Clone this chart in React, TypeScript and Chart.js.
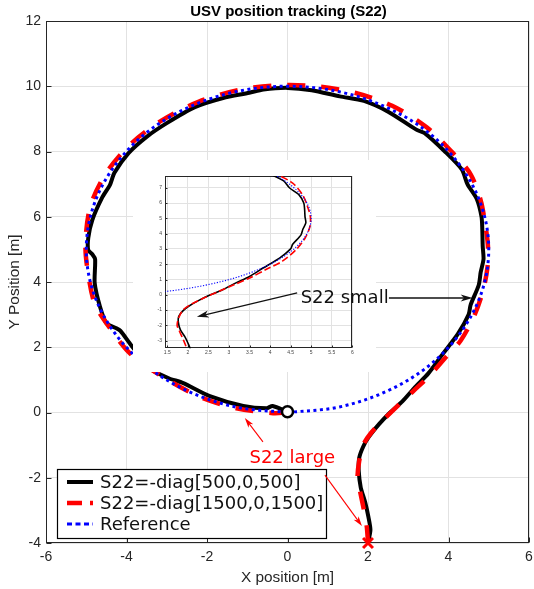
import { useEffect, useRef } from 'react';
import { Chart, registerables } from 'chart.js';

Chart.register(...registerables);

// ---------------- data ----------------
const TITLE = 'USV position tracking (S22)';
const X_LABEL = 'X position [m]';
const Y_LABEL = 'Y Position [m]';
const SERIES_NAMES = ['S22=-diag[500,0,500]', 'S22=-diag[1500,0,1500]', 'Reference'];

// S22 small (black solid)
const smallX = [2.0, 2.06, 2.01, 1.93, 1.82, 1.77, 1.78, 1.88, 2.02, 2.28, 2.55, 2.86, 3.17, 3.5, 3.83, 4.23, 4.5, 4.55, 4.75, 4.8, 4.87, 4.85, 4.84, 4.82, 4.7, 4.47, 4.33, 3.91, 3.4, 3.2, 2.5, 1.9, 1.3, 0.6, 0.0, -0.6, -0.95, -1.6, -2.3, -3.0, -3.5, -3.95, -4.3, -4.41, -4.6, -4.85, -4.95, -4.95, -4.85, -4.78, -4.79, -4.66, -4.5, -4.25, -4.15, -3.92, -3.6, -3.34, -2.95, -2.59, -1.93, -1.1, -0.52, -0.37, 0.0];
const smallY = [-4.0, -3.6, -3.2, -2.75, -2.3, -1.8, -1.4, -1.05, -0.75, -0.35, 0.0, 0.35, 0.78, 1.2, 1.75, 2.4, 3.0, 3.3, 3.9, 4.3, 4.7, 5.1, 5.6, 6.0, 6.55, 7.0, 7.45, 8.0, 8.57, 8.67, 9.22, 9.55, 9.69, 9.88, 9.95, 9.9, 9.8, 9.64, 9.36, 8.87, 8.45, 7.95, 7.35, 6.98, 6.6, 5.9, 5.35, 4.98, 4.85, 4.7, 3.96, 3.25, 2.74, 2.58, 2.5, 2.12, 1.62, 1.28, 1.05, 0.9, 0.5, 0.2, 0.13, 0.2, 0.02];

// S22 large (red dashed)
const largeX = [2.0, 1.97, 1.9, 1.8, 1.74, 1.78, 1.88, 2.08, 2.4, 2.75, 3.12, 3.52, 3.9, 4.3, 4.63, 4.85, 4.97, 4.98, 4.92, 4.8, 4.55, 4.15, 3.45, 2.6, 1.67, 0.7, -0.2, -1.2, -2.2, -3.1, -3.87, -4.5, -4.9, -5.02, -4.92, -4.78, -4.5, -3.92, -3.17, -2.18, -1.27, -0.36, 0.0];
const largeY = [-4.0, -3.5, -3.0, -2.4, -2.0, -1.5, -1.0, -0.62, -0.2, 0.22, 0.65, 1.12, 1.65, 2.2, 2.94, 3.7, 4.47, 5.1, 5.7, 6.5, 7.3, 7.9, 8.75, 9.4, 9.8, 10.0, 10.03, 9.89, 9.53, 8.97, 8.26, 7.35, 6.31, 5.09, 4.0, 3.3, 2.74, 1.82, 1.15, 0.48, 0.13, -0.02, 0.0];

// Reference (blue dotted)
const refX = [0, 1.29, 2.5, 3.54, 4.33, 4.83, 5, 4.83, 4.33, 3.54, 2.5, 1.29, 0, -1.29, -2.5, -3.54, -4.33, -4.83, -5, -4.83, -4.33, -3.54, -2.5, -1.29, 0];
const refY = [0, 0.17, 0.67, 1.46, 2.5, 3.71, 5, 6.29, 7.5, 8.54, 9.33, 9.83, 10, 9.83, 9.33, 8.54, 7.5, 6.29, 5, 3.71, 2.5, 1.46, 0.67, 0.17, 0];

// axes
const X_RANGE = [-6, 6];
const Y_RANGE = [-4, 12];
const X_STEP = 2;
const Y_STEP = 2;
const INSET_X_RANGE = [1.445, 6];
const INSET_Y_RANGE = [-3.5, 7.77];
const INSET_X_STEP = 0.5;
const INSET_Y_STEP = 1;

// annotations (main data coords unless noted)
const SMALL_NOTE = { text: 'S22 small', x: 1.42, y: 3.36 };
const SMALL_ARROW = { from: [2.52, 3.51], to: [4.6, 3.51] };
const SMALL_ARROW_INSET = { from: [0.24, 3.67], toInset: [2.22, -1.44] };
const LARGE_NOTE = { text: 'S22 large', x: 0.12, y: -1.55 };
const LARGE_ARROWS = [
  { from: [-0.61, -0.9], to: [-1.06, -0.17] },
  { from: [0.93, -1.92], to: [1.85, -3.48] },
];

// ---------------- styles / layout ----------------
const W = 534;
const H = 589;
const SANS = '"Liberation Sans", Arial, Helvetica, sans-serif';
const DEJAVU = '"DejaVu Sans", Verdana, sans-serif';
const AXIS_COLOR = '#262626';
const GRID_COLOR = '#e2e2e2';

const STYLE = {
  small: { color: '#000000', width: 4, dash: [] as number[] },
  large: { color: '#ff0000', width: 4.5, dash: [18, 16] },
  ref: { color: '#0000ff', width: 3, dash: [3, 3.5] },
};
const INSET_STYLE = {
  small: { color: '#000000', width: 1.6, dash: [] as number[] },
  large: { color: '#ff0000', width: 1.6, dash: [7, 3] },
  ref: { color: '#0000ff', width: 1.1, dash: [1.2, 1.6] },
};
const INSET_PANEL = { left: 133, top: 160, right: 376, bottom: 372 };

const pts = (xs: number[], ys: number[]) => xs.map((x, i) => ({ x, y: ys[i] }));

function lineDs(label: string, xs: number[], ys: number[], st: any, order: number, tension: number) {
  return {
    label,
    data: pts(xs, ys),
    showLine: true,
    borderColor: st.color,
    backgroundColor: st.color,
    borderWidth: st.width,
    borderDash: st.dash,
    borderCapStyle: 'butt',
    borderJoinStyle: 'round',
    pointRadius: 0,
    pointHoverRadius: 0,
    tension,
    order,
    fill: false,
  };
}

function drawArrow(ctx: CanvasRenderingContext2D, x1: number, y1: number, x2: number, y2: number, color: string, lw: number, len: number, hw: number) {
  const ang = Math.atan2(y2 - y1, x2 - x1);
  const d = Math.hypot(x2 - x1, y2 - y1);
  ctx.save();
  ctx.translate(x2, y2);
  ctx.rotate(ang);
  ctx.strokeStyle = color;
  ctx.fillStyle = color;
  ctx.lineWidth = lw;
  ctx.beginPath();
  ctx.moveTo(-d, 0);
  ctx.lineTo(-len * 0.7, 0);
  ctx.stroke();
  ctx.beginPath();
  ctx.moveTo(0, 0);
  ctx.lineTo(-len, -hw);
  ctx.lineTo(-len * 0.72, 0);
  ctx.lineTo(-len, hw);
  ctx.closePath();
  ctx.fill();
  ctx.restore();
}

function boxPlugin(id: string, tickLen: number, lw: number) {
  return {
    id,
    beforeDatasetsDraw(chart: any) {
      const { ctx, chartArea: a, scales } = chart;
      ctx.save();
      ctx.strokeStyle = AXIS_COLOR;
      ctx.lineWidth = lw;
      const l = Math.round(a.left) + 0.5;
      const t = Math.round(a.top) + 0.5;
      const r = Math.round(a.right) - 0.5;
      const b = Math.round(a.bottom) - 0.5;
      ctx.strokeRect(l, t, r - l, b - t);
      ctx.beginPath();
      scales.x.ticks.forEach((tk: any) => {
        const p = Math.round(scales.x.getPixelForValue(tk.value)) + 0.5;
        ctx.moveTo(p, b);
        ctx.lineTo(p, b - tickLen);
      });
      scales.y.ticks.forEach((tk: any) => {
        const p = Math.round(scales.y.getPixelForValue(tk.value)) + 0.5;
        ctx.moveTo(l, p);
        ctx.lineTo(l + tickLen, p);
      });
      ctx.stroke();
      ctx.restore();
    },
  };
}

function scaleCfg(min: number, max: number, step: number, isX: boolean, opts: any) {
  return {
    type: 'linear',
    min,
    max,
    ticks: {
      stepSize: step,
      padding: opts.tickPad,
      color: opts.tickColor,
      font: { family: SANS, size: opts.tickSize },
      callback: (v: any) => String(v),
      maxRotation: 0,
      autoSkip: false,
      includeBounds: false,
    },
    grid: { color: GRID_COLOR, lineWidth: 1, drawTicks: false },
    border: { display: false },
    title: opts.title
      ? {
          display: true,
          text: opts.title,
          color: AXIS_COLOR,
          font: { family: SANS, size: 15.4 },
          padding: isX ? { top: 0, bottom: 2 } : { top: 6, bottom: 0 },
        }
      : { display: false },
    afterFit: (s: any) => {
      if (isX) s.height = opts.size;
      else s.width = opts.size;
      s.paddingLeft = 0;
      s.paddingRight = 0;
      s.paddingTop = 0;
      s.paddingBottom = 0;
    },
  };
}

export default function App() {
  const mainRef = useRef<HTMLCanvasElement>(null);
  const insetRef = useRef<HTMLCanvasElement>(null);

  useEffect(() => {
    const lastS = smallX.length - 1;

    const titlePlugin = {
      id: 'ttl',
      afterDraw(chart: any) {
        const { ctx, chartArea: a } = chart;
        ctx.save();
        ctx.font = `bold 15px ${SANS}`;
        ctx.fillStyle = '#000';
        ctx.textAlign = 'center';
        ctx.textBaseline = 'alphabetic';
        ctx.fillText(TITLE, (a.left + a.right) / 2 + 1, 15.5);
        ctx.restore();
      },
    };

    const legendPlugin = {
      id: 'boxLegend',
      afterDatasetsDraw(chart: any) {
        const { ctx, chartArea: a } = chart;
        const items = [STYLE.small, STYLE.large, STYLE.ref];
        ctx.save();
        ctx.font = `18px ${DEJAVU}`;
        const left = Math.round(a.left + 11);
        const top = Math.round(a.bottom - 74);
        const textX = left + 43;
        const maxW = Math.max(...SERIES_NAMES.map((s) => ctx.measureText(s).width));
        const right = Math.round(textX + maxW + 3);
        const hgt = 69;
        ctx.fillStyle = '#fff';
        ctx.fillRect(left, top, right - left, hgt);
        ctx.strokeStyle = '#000';
        ctx.lineWidth = 1.2;
        ctx.strokeRect(left + 0.5, top + 0.5, right - left, hgt);
        items.forEach((st, i) => {
          const y = top + 13 + i * 21;
          ctx.save();
          ctx.strokeStyle = st.color;
          ctx.lineWidth = st.width;
          ctx.setLineDash(i === 1 ? [15, 8] : i === 2 ? [5, 3.5] : []);
          ctx.beginPath();
          ctx.moveTo(left + 10, y);
          ctx.lineTo(left + 36, y);
          ctx.stroke();
          ctx.restore();
          ctx.fillStyle = '#111';
          ctx.textAlign = 'left';
          ctx.textBaseline = 'middle';
          ctx.fillText(SERIES_NAMES[i], textX, y + 1);
        });
        ctx.restore();
      },
    };

    const main = new Chart(mainRef.current as HTMLCanvasElement, {
      type: 'scatter',
      data: {
        datasets: [
          {
            label: 'end',
            data: [{ x: smallX[lastS], y: smallY[lastS] }],
            showLine: false,
            pointStyle: 'circle',
            pointRadius: 5.5,
            pointHoverRadius: 5.5,
            pointBorderWidth: 2.5,
            pointBorderColor: '#000',
            pointBackgroundColor: '#fff',
            order: 0,
            clip: false,
          } as any,
          {
            label: 'start',
            data: [{ x: largeX[0], y: largeY[0] }],
            showLine: false,
            pointStyle: 'crossRot',
            pointRadius: 7,
            pointHoverRadius: 7,
            pointBorderWidth: 3,
            pointBorderColor: '#ff0000',
            pointBackgroundColor: '#ff0000',
            order: 0,
            clip: false,
          } as any,
          lineDs(SERIES_NAMES[2], refX, refY, STYLE.ref, 1, 0.34) as any,
          lineDs(SERIES_NAMES[1], largeX, largeY, STYLE.large, 2, 0.3) as any,
          lineDs(SERIES_NAMES[0], smallX, smallY, STYLE.small, 3, 0.25) as any,
        ],
      },
      options: {
        responsive: false,
        animation: false,
        events: [],
        layout: { autoPadding: false, padding: { left: 0, top: 21, right: 5, bottom: 0 } },
        elements: { line: { capBezierPoints: false } },
        plugins: { legend: { display: false }, tooltip: { enabled: false }, title: { display: false } },
        scales: {
          x: scaleCfg(X_RANGE[0], X_RANGE[1], X_STEP, true, { tickPad: 6, tickColor: AXIS_COLOR, tickSize: 14, title: X_LABEL, size: 46 }) as any,
          y: scaleCfg(Y_RANGE[0], Y_RANGE[1], Y_STEP, false, { tickPad: 5, tickColor: AXIS_COLOR, tickSize: 14, title: Y_LABEL, size: 46 }) as any,
        },
      } as any,
      plugins: [boxPlugin('mainBox', 5, 1), legendPlugin, titlePlugin],
    });

    const panelPlugin = {
      id: 'panel',
      beforeDraw(chart: any) {
        const { ctx } = chart;
        ctx.save();
        ctx.fillStyle = '#ffffff';
        ctx.fillRect(INSET_PANEL.left, INSET_PANEL.top, INSET_PANEL.right - INSET_PANEL.left, INSET_PANEL.bottom - INSET_PANEL.top);
        ctx.restore();
      },
    };

    const annotPlugin = {
      id: 'annot',
      afterDraw(chart: any) {
        const { ctx } = chart;
        const mx = (v: number) => main.scales.x.getPixelForValue(v);
        const my = (v: number) => main.scales.y.getPixelForValue(v);
        const ix = (v: number) => chart.scales.x.getPixelForValue(v);
        const iy = (v: number) => chart.scales.y.getPixelForValue(v);
        ctx.save();
        ctx.font = `18px ${DEJAVU}`;
        ctx.textAlign = 'center';
        ctx.textBaseline = 'alphabetic';
        ctx.fillStyle = '#111';
        ctx.fillText(SMALL_NOTE.text, mx(SMALL_NOTE.x), my(SMALL_NOTE.y));
        drawArrow(ctx, mx(SMALL_ARROW.from[0]), my(SMALL_ARROW.from[1]), mx(SMALL_ARROW.to[0]), my(SMALL_ARROW.to[1]), '#111', 1.3, 12, 3.6);
        drawArrow(
          ctx,
          mx(SMALL_ARROW_INSET.from[0]),
          my(SMALL_ARROW_INSET.from[1]),
          ix(SMALL_ARROW_INSET.toInset[0]),
          iy(SMALL_ARROW_INSET.toInset[1]),
          '#111',
          1.3,
          12,
          3.6
        );
        ctx.fillStyle = '#ff0000';
        ctx.fillText(LARGE_NOTE.text, mx(LARGE_NOTE.x), my(LARGE_NOTE.y));
        LARGE_ARROWS.forEach((a) => {
          drawArrow(ctx, mx(a.from[0]), my(a.from[1]), mx(a.to[0]), my(a.to[1]), '#ff0000', 1.1, 10, 3);
        });
        ctx.restore();
      },
    };

    const inset = new Chart(insetRef.current as HTMLCanvasElement, {
      type: 'scatter',
      data: {
        datasets: [
          lineDs(SERIES_NAMES[2], refX, refY, INSET_STYLE.ref, 1, 0.34) as any,
          lineDs(SERIES_NAMES[1], largeX, largeY, INSET_STYLE.large, 2, 0.3) as any,
          lineDs(SERIES_NAMES[0], smallX, smallY, INSET_STYLE.small, 3, 0.25) as any,
        ],
      },
      options: {
        responsive: false,
        animation: false,
        events: [],
        layout: { autoPadding: false, padding: { left: 145, top: 176, right: 181.7, bottom: 228.7 } },
        elements: { line: { capBezierPoints: false } },
        plugins: { legend: { display: false }, tooltip: { enabled: false }, title: { display: false } },
        scales: {
          x: scaleCfg(INSET_X_RANGE[0], INSET_X_RANGE[1], INSET_X_STEP, true, { tickPad: 1.5, tickColor: '#444', tickSize: 5, title: null, size: 12 }) as any,
          y: scaleCfg(INSET_Y_RANGE[0], INSET_Y_RANGE[1], INSET_Y_STEP, false, { tickPad: 3, tickColor: '#444', tickSize: 5, title: null, size: 20 }) as any,
        },
      } as any,
      plugins: [panelPlugin, boxPlugin('insetBox', 2, 1), annotPlugin],
    });

    return () => {
      inset.destroy();
      main.destroy();
    };
  }, []);

  return (
    <div style={{ position: 'absolute', left: 0, top: 0, width: W, height: H, background: '#fff' }}>
      <canvas ref={mainRef} width={W} height={H} style={{ position: 'absolute', left: 0, top: 0 }} />
      <canvas ref={insetRef} width={W} height={H} style={{ position: 'absolute', left: 0, top: 0 }} />
    </div>
  );
}
